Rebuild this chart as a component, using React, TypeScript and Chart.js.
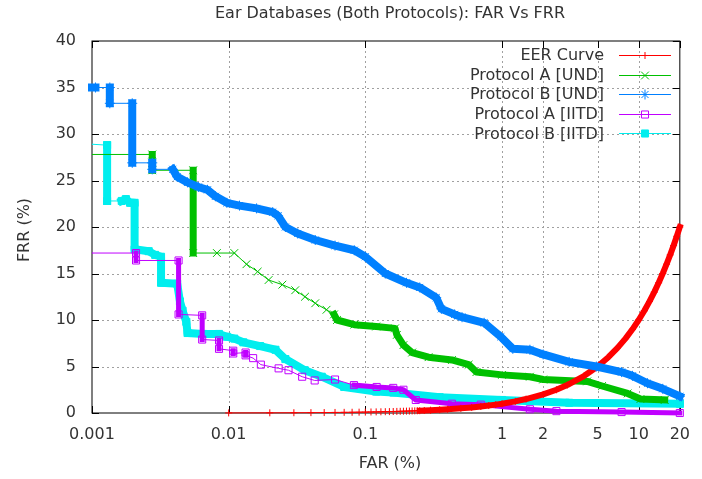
import React, { useEffect, useRef } from 'react';
import { Chart, registerables } from 'chart.js';

Chart.register(...registerables);

const TITLE = 'Ear Databases (Both Protocols): FAR Vs FRR';
const X_TITLE = 'FAR (%)';
const Y_TITLE = 'FRR (%)';
const X_MIN = 0.001;
const X_MAX = 20;
const Y_MIN = 0;
const Y_MAX = 40;
const X_TICKS = [0.001, 0.01, 0.1, 1, 2, 5, 10, 20];
const X_TICK_LABELS = ['0.001', '0.01', '0.1', '1', '2', '5', '10', '20'];
const Y_TICKS = [0, 5, 10, 15, 20, 25, 30, 35, 40];

const SERIES_NAMES = ['EER Curve', 'Protocol A [UND]', 'Protocol B [UND]', 'Protocol A [IITD]', 'Protocol B [IITD]'];

// EER curve (FAR = FRR)
const EER_FAR = [0.01, 0.02, 0.03, 0.04, 0.05, 0.06, 0.07, 0.08, 0.09, 0.1, 0.11, 0.12, 0.13, 0.14, 0.15, 0.16, 0.17, 0.18, 0.19, 0.2, 0.21, 0.22, 0.23, 0.24, 0.25, 0.27, 0.3, 0.35, 0.4, 0.5, 0.6, 0.7, 0.8, 0.9, 1, 1.25, 1.5, 2, 2.5, 3, 4, 5, 6, 7, 8, 9, 10, 11, 12, 13, 14, 15, 16, 17, 18, 19, 20];
const EER_FRR = [0.01, 0.02, 0.03, 0.04, 0.05, 0.06, 0.07, 0.08, 0.09, 0.1, 0.11, 0.12, 0.13, 0.14, 0.15, 0.16, 0.17, 0.18, 0.19, 0.2, 0.21, 0.22, 0.23, 0.24, 0.25, 0.27, 0.3, 0.35, 0.4, 0.5, 0.6, 0.7, 0.8, 0.9, 1, 1.25, 1.5, 2, 2.5, 3, 4, 5, 6, 7, 8, 9, 10, 11, 12, 13, 14, 15, 16, 17, 18, 19, 20];

// Protocol A [UND]
const A_UND_FAR = [0.001, 0.00276, 0.00276, 0.0055, 0.0055, 0.0082, 0.011, 0.0135, 0.0163, 0.0196, 0.0247, 0.0307, 0.0362, 0.043, 0.052, 0.059, 0.062, 0.083, 0.12, 0.165, 0.17, 0.19, 0.22, 0.29, 0.43, 0.57, 0.65, 1.0, 1.6, 2.0, 4.2, 5.4, 8.3, 10.3, 15.5];
const A_UND_FRR = [27.8, 27.8, 26.1, 26.1, 17.2, 17.2, 17.2, 16.0, 15.2, 14.3, 13.8, 13.2, 12.5, 11.8, 11.1, 10.6, 10.0, 9.5, 9.3, 9.1, 8.4, 7.3, 6.5, 6.0, 5.7, 5.2, 4.4, 4.1, 3.9, 3.6, 3.4, 2.9, 2.1, 1.5, 1.4];

// Protocol B [UND]
const B_UND_FAR = [0.001, 0.00106, 0.00135, 0.00135, 0.00197, 0.00197, 0.00276, 0.00276, 0.0039, 0.0042, 0.005, 0.006, 0.007, 0.008, 0.0097, 0.012, 0.016, 0.021, 0.023, 0.026, 0.032, 0.043, 0.06, 0.083, 0.1, 0.14, 0.2, 0.25, 0.33, 0.36, 0.45, 0.51, 0.74, 0.98, 1.2, 1.6, 2.0, 3.1, 4.9, 7.5, 9, 11.6, 15, 20];
const B_UND_FRR = [35.0, 35.0, 35.0, 33.3, 33.3, 26.9, 26.9, 26.2, 26.2, 25.4, 24.8, 24.3, 24.0, 23.3, 22.6, 22.3, 22.0, 21.6, 21.2, 20.0, 19.3, 18.6, 18.0, 17.5, 16.8, 15.0, 14.0, 13.5, 12.4, 11.2, 10.6, 10.3, 9.7, 8.2, 6.9, 6.8, 6.3, 5.5, 5.0, 4.4, 4.0, 3.2, 2.6, 1.8];

// Protocol A [IITD]
const A_IITD_FAR = [0.001, 0.0021, 0.0021, 0.0043, 0.0043, 0.0064, 0.0064, 0.0085, 0.0085, 0.0108, 0.0108, 0.0133, 0.0133, 0.0151, 0.0172, 0.0232, 0.0274, 0.0345, 0.0426, 0.06, 0.0825, 0.121, 0.16, 0.19, 0.234, 0.43, 0.7, 1.6, 2.5, 7.5, 20];
const A_IITD_FRR = [17.2, 17.2, 16.4, 16.4, 10.6, 10.5, 7.9, 7.8, 6.9, 6.7, 6.4, 6.5, 6.2, 5.9, 5.2, 4.8, 4.6, 3.9, 3.5, 3.6, 3.0, 2.8, 2.7, 2.5, 1.4, 1.0, 0.9, 0.4, 0.2, 0.1, 0.0];

// Protocol B [IITD]
const B_IITD_FAR = [0.001, 0.00129, 0.00129, 0.00165, 0.00177, 0.0019, 0.00205, 0.00205, 0.0026, 0.0029, 0.0032, 0.0032, 0.0042, 0.0044, 0.0046, 0.0049, 0.005, 0.0065, 0.0085, 0.0097, 0.011, 0.0128, 0.017, 0.022, 0.026, 0.036, 0.048, 0.07, 0.12, 0.16, 0.35, 1.0, 3.1, 20];
const B_IITD_FRR = [28.9, 28.8, 22.8, 22.8, 23.0, 22.6, 22.6, 17.6, 17.4, 17.0, 16.8, 14.0, 13.9, 12.0, 11.0, 9.8, 8.6, 8.5, 8.5, 8.2, 8.0, 7.6, 7.2, 6.8, 5.8, 4.6, 3.9, 2.8, 2.3, 2.2, 1.7, 1.4, 1.1, 1.0];

const FONT = 'DejaVu Sans';
const TEXT_COLOR = '#333333';

type Style = 'cross' | 'crossRot' | 'star' | 'rect';

const STYLES = [
  { color: '#ff0000', style: 'cross' as Style, r: 3.5, fill: false, band: 6 },
  { color: '#00c000', style: 'crossRot' as Style, r: 5.5, fill: false, band: 7 },
  { color: '#0080ff', style: 'star' as Style, r: 5, fill: false, band: 8 },
  { color: '#c000ff', style: 'rect' as Style, r: 5, fill: false, band: 5 },
  { color: '#00eeee', style: 'rect' as Style, r: 5, fill: true, band: 8 },
];

function drawMarker(ctx: CanvasRenderingContext2D, style: Style, x: number, y: number, r: number, color: string, fill: boolean) {
  ctx.save();
  ctx.strokeStyle = color;
  ctx.fillStyle = color;
  ctx.lineWidth = 1;
  ctx.beginPath();
  const d = r * Math.SQRT1_2;
  if (style === 'cross' || style === 'star') {
    ctx.moveTo(x - r, y);
    ctx.lineTo(x + r, y);
    ctx.moveTo(x, y - r);
    ctx.lineTo(x, y + r);
  }
  if (style === 'crossRot' || style === 'star') {
    ctx.moveTo(x - d, y - d);
    ctx.lineTo(x + d, y + d);
    ctx.moveTo(x - d, y + d);
    ctx.lineTo(x + d, y - d);
  }
  if (style === 'rect') {
    ctx.rect(x - d, y - d, 2 * d, 2 * d);
    if (fill) ctx.fill();
  }
  ctx.stroke();
  ctx.restore();
}

const decorPlugin = {
  id: 'decor',
  beforeDatasetsDraw(chart: any) {
    const { ctx, chartArea: a, scales } = chart;
    const x = scales.x;
    const y = scales.y;
    ctx.save();
    // dotted grid
    ctx.strokeStyle = '#a0a0a0';
    ctx.lineWidth = 1;
    ctx.setLineDash([2, 3]);
    ctx.beginPath();
    for (const v of X_TICKS) {
      if (v === X_MIN || v === X_MAX) continue;
      const px = Math.round(x.getPixelForValue(v)) + 0.5;
      ctx.moveTo(px, a.top);
      ctx.lineTo(px, a.bottom);
    }
    for (const v of Y_TICKS) {
      if (v === Y_MIN || v === Y_MAX) continue;
      const py = Math.round(y.getPixelForValue(v)) + 0.5;
      ctx.moveTo(a.left, py);
      ctx.lineTo(a.right, py);
    }
    ctx.stroke();
    ctx.setLineDash([]);
    // border
    ctx.strokeStyle = '#000';
    ctx.lineWidth = 1;
    ctx.strokeRect(a.left, a.top, a.right - a.left, a.bottom - a.top);
    // tick marks (inside, mirrored)
    ctx.beginPath();
    const tl = 7;
    for (const v of X_TICKS) {
      const px = Math.round(x.getPixelForValue(v)) + 0.5;
      ctx.moveTo(px, a.bottom);
      ctx.lineTo(px, a.bottom - tl);
      ctx.moveTo(px, a.top);
      ctx.lineTo(px, a.top + tl);
    }
    for (const v of Y_TICKS) {
      const py = Math.round(y.getPixelForValue(v)) + 0.5;
      ctx.moveTo(a.left, py);
      ctx.lineTo(a.left + tl, py);
      ctx.moveTo(a.right, py);
      ctx.lineTo(a.right - tl, py);
    }
    ctx.stroke();
    ctx.restore();
  },
  afterDraw(chart: any) {
    const { ctx } = chart;
    ctx.save();
    ctx.fillStyle = TEXT_COLOR;
    ctx.font = `16px "${FONT}"`;
    ctx.textBaseline = 'alphabetic';
    // title
    ctx.textAlign = 'center';
    ctx.fillText(TITLE, 390, 18);
    // x title
    ctx.fillText(X_TITLE, 390, 468);
    // y title
    ctx.save();
    ctx.translate(29, 230);
    ctx.rotate(-Math.PI / 2);
    ctx.fillText(Y_TITLE, 0, 0);
    ctx.restore();
    // legend
    const textRight = 604;
    const x0 = 619;
    const x1 = 671;
    const xm = 645;
    SERIES_NAMES.forEach((name, i) => {
      const yy = 55 + i * 19.6;
      const st = STYLES[i];
      ctx.fillStyle = TEXT_COLOR;
      ctx.textAlign = 'right';
      ctx.textBaseline = 'middle';
      ctx.fillText(name, textRight, yy + 1);
      ctx.strokeStyle = st.color;
      ctx.lineWidth = 1;
      ctx.beginPath();
      ctx.moveTo(x0, Math.round(yy) + 0.5);
      ctx.lineTo(x1, Math.round(yy) + 0.5);
      ctx.stroke();
      drawMarker(ctx, st.style, xm, Math.round(yy) + 0.5, st.r, st.color, st.fill);
    });
    ctx.restore();
  },
};

function makeDataset(idx: number, xs: number[], ys: number[], thin: (c: any) => boolean, order: number) {
  const st = STYLES[idx];
  return {
    label: SERIES_NAMES[idx],
    data: xs.map((v, i) => ({ x: v, y: ys[i] })),
    borderColor: st.color,
    backgroundColor: st.color,
    borderWidth: 1,
    borderJoinStyle: 'round',
    borderCapStyle: 'square',
    pointStyle: st.style,
    pointRadius: (c: any) => (c.raw && c.raw.x <= X_MIN ? 0 : st.r),
    pointBorderWidth: 1,
    pointBorderColor: st.color,
    pointBackgroundColor: st.fill ? st.color : 'rgba(0,0,0,0)',
    tension: 0,
    fill: false,
    clip: false,
    order,
    segment: {
      borderWidth: (c: any) => (thin(c) ? 1 : st.band),
    },
  };
}

const inSet = (arr: number[]) => {
  const s = new Set(arr);
  return (c: any) => s.has(c.p0DataIndex);
};

export default function App() {
  const ref = useRef<HTMLCanvasElement | null>(null);

  useEffect(() => {
    const canvas = ref.current;
    if (!canvas) return;
    const tickFont = { family: FONT, size: 16 };
    const datasets = [
      makeDataset(0, EER_FAR, EER_FRR, (c: any) => c.p0.parsed.x < 0.245, 2),
      makeDataset(1, A_UND_FAR, A_UND_FRR, inSet([0, 2, 4, 5, 6, 7, 8, 9, 10, 11, 12, 13, 14]), 3),
      makeDataset(2, B_UND_FAR, B_UND_FRR, inSet([1, 3, 5, 7]), 1),
      makeDataset(3, A_IITD_FAR, A_IITD_FRR, inSet([0, 2, 4, 6, 8, 10, 12, 13, 14, 15, 16, 17, 18, 19]), 4),
      makeDataset(4, B_IITD_FAR, B_IITD_FRR, inSet([0, 2]), 5),
    ];
    const chart = new Chart(canvas, {
      type: 'line',
      data: { datasets: datasets as any },
      options: {
        responsive: false,
        animation: false,
        events: [],
        layout: { padding: { top: 41, right: 9, left: 0, bottom: 0 } },
        plugins: {
          legend: { display: false },
          title: { display: false },
          tooltip: { enabled: false },
        },
        scales: {
          x: {
            type: 'logarithmic',
            min: X_MIN,
            max: X_MAX,
            bounds: 'data',
            afterBuildTicks: (s: any) => {
              s.ticks = X_TICKS.map((v) => ({ value: v }));
            },
            afterFit: (s: any) => {
              s.height = 66;
            },
            grid: { display: false, drawTicks: false },
            border: { display: false },
            ticks: {
              autoSkip: false,
              maxRotation: 0,
              minRotation: 0,
              padding: 12,
              color: TEXT_COLOR,
              font: tickFont,
              callback: (_v: any, i: number) => X_TICK_LABELS[i],
            },
          },
          y: {
            type: 'linear',
            min: Y_MIN,
            max: Y_MAX,
            afterBuildTicks: (s: any) => {
              s.ticks = Y_TICKS.map((v) => ({ value: v }));
            },
            afterFit: (s: any) => {
              s.width = 92;
            },
            grid: { display: false, drawTicks: false },
            border: { display: false },
            ticks: {
              padding: 16,
              color: TEXT_COLOR,
              font: tickFont,
              callback: (v: any) => String(v),
            },
          },
        },
      } as any,
      plugins: [decorPlugin],
    });
    return () => chart.destroy();
  }, []);

  return (
    <div style={{ position: 'fixed', left: 0, top: 0, width: 702, height: 479, background: '#fff' }}>
      <canvas ref={ref} width={702} height={479} style={{ display: 'block', width: 702, height: 479 }} />
    </div>
  );
}
